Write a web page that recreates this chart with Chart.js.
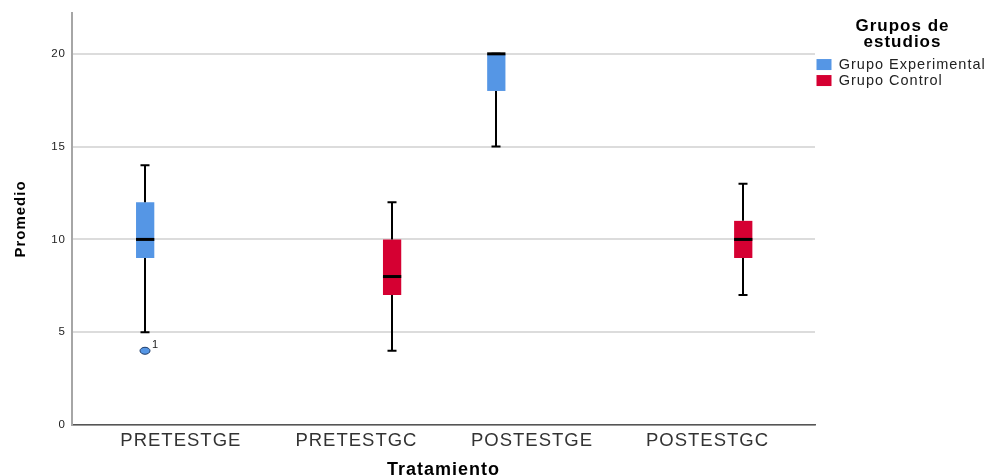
<!DOCTYPE html>
<html lang="es">
<head>
<meta charset="utf-8">
<title>Promedio por tratamiento</title>
<script src="https://cdn.jsdelivr.net/npm/chart.js@4.4.1/dist/chart.umd.min.js"></script>
<style>
  html, body { margin: 0; padding: 0; background: #ffffff; }
  #wrap { width: 990px; height: 476px; }
</style>
</head>
<body>
<div id="wrap"><canvas id="chart" width="990" height="476"></canvas></div>
<script>
// Categories on the x axis and the two study groups
const categories = ['PRETESTGE', 'PRETESTGC', 'POSTESTGE', 'POSTESTGC'];
const groupNames = ['Grupo Experimental', 'Grupo Control'];
const yTickValues = [0, 5, 10, 15, 20];

// Grupo Experimental: five-number summary per category (null = no data)
const expMin    = [5,    null, 15,   null];
const expQ1     = [9,    null, 18,   null];
const expMedian = [10,   null, 20,   null];
const expQ3     = [12,   null, 20,   null];
const expMax    = [14,   null, 20,   null];
const expOutliers     = [[4], [], [], []];
const expOutlierCases = [['1'], [], [], []];

// Grupo Control: five-number summary per category (null = no data)
const ctlMin    = [null, 4,  null, 7];
const ctlQ1     = [null, 7,  null, 9];
const ctlMedian = [null, 8,  null, 10];
const ctlQ3     = [null, 10, null, 11];
const ctlMax    = [null, 12, null, 13];
const ctlOutliers     = [[], [], [], []];
const ctlOutlierCases = [[], [], [], []];

const groupColors = ['#5596E5', '#D50032'];
const FONT = '"Liberation Sans", Arial, Helvetica, sans-serif';

const boxStats = [
  { min: expMin, q1: expQ1, median: expMedian, q3: expQ3, max: expMax, out: expOutliers, cases: expOutlierCases },
  { min: ctlMin, q1: ctlQ1, median: ctlMedian, q3: ctlQ3, max: ctlMax, out: ctlOutliers, cases: ctlOutlierCases }
];

// Interquartile box as a floating bar at each category index
function boxData(s) {
  return categories.map((c, i) => ({ x: i, y: s.q1[i] == null ? null : [s.q1[i], s.q3[i]] }));
}

// Slightly wider text spacing for all labels
const letterSpacingPlugin = {
  id: 'letterSpacing',
  beforeLayout(chart) { chart.ctx.letterSpacing = '1px'; },
  beforeDraw(chart) { chart.ctx.letterSpacing = '1px'; }
};

// Whiskers, caps, median line and outliers on top of each box
const boxWhiskerPlugin = {
  id: 'boxWhiskers',
  afterDatasetsDraw(chart) {
    const ctx = chart.ctx;
    const yScale = chart.scales.y;
    const py = v => yScale.getPixelForValue(v);
    const capHalf = 4.5;
    chart.data.datasets.forEach((ds, di) => {
      const s = boxStats[di];
      const meta = chart.getDatasetMeta(di);
      meta.data.forEach((bar, i) => {
        if (s.median[i] == null) return;
        const cx = Math.round(bar.x);
        const half = bar.width / 2;
        ctx.save();
        ctx.strokeStyle = '#000000';
        ctx.lineCap = 'butt';
        ctx.lineWidth = 2;
        ctx.beginPath();
        ctx.moveTo(cx, py(s.q1[i]));
        ctx.lineTo(cx, py(s.min[i]));
        ctx.moveTo(cx - capHalf, py(s.min[i]));
        ctx.lineTo(cx + capHalf, py(s.min[i]));
        ctx.moveTo(cx, py(s.q3[i]));
        ctx.lineTo(cx, py(s.max[i]));
        ctx.moveTo(cx - capHalf, py(s.max[i]));
        ctx.lineTo(cx + capHalf, py(s.max[i]));
        ctx.stroke();

        ctx.lineWidth = 3;
        ctx.beginPath();
        ctx.moveTo(bar.x - half, py(s.median[i]));
        ctx.lineTo(bar.x + half, py(s.median[i]));
        ctx.stroke();

        s.out[i].forEach((v, k) => {
          const oy = py(v);
          ctx.beginPath();
          ctx.ellipse(cx, oy, 5, 3.5, 0, 0, Math.PI * 2);
          ctx.fillStyle = ds.backgroundColor;
          ctx.fill();
          ctx.lineWidth = 1;
          ctx.strokeStyle = '#1d3a66';
          ctx.stroke();
          ctx.fillStyle = '#222222';
          ctx.font = '11px ' + FONT;
          ctx.textAlign = 'left';
          ctx.textBaseline = 'alphabetic';
          ctx.fillText(s.cases[i][k], cx + 7, oy - 3);
        });
        ctx.restore();
      });
    });
  }
};

Chart.defaults.font.family = FONT;

new Chart(document.getElementById('chart'), {
  type: 'bar',
  data: {
    datasets: [
      { label: groupNames[0], data: boxData(boxStats[0]), backgroundColor: groupColors[0], borderWidth: 0 },
      { label: groupNames[1], data: boxData(boxStats[1]), backgroundColor: groupColors[1], borderWidth: 0 }
    ]
  },
  plugins: [letterSpacingPlugin, boxWhiskerPlugin],
  options: {
    responsive: false,
    animation: false,
    events: [],
    layout: { padding: { top: 13, right: 0, bottom: 0, left: 0 } },
    datasets: { bar: { categoryPercentage: 0.813, barPercentage: 0.256 } },
    scales: {
      x: {
        type: 'linear',
        min: -0.62,
        max: 3.612,
        offset: false,
        afterBuildTicks: s => { s.ticks = categories.map((c, i) => ({ value: i })); },
        afterFit: s => { s.height = 51; },
        grid: { display: false, drawTicks: false },
        border: { display: true, color: '#555555', width: 1.5 },
        ticks: {
          callback: v => categories[v],
          color: '#333333',
          font: { size: 18.5 },
          padding: 5,
          autoSkip: false,
          maxRotation: 0
        },
        title: {
          display: true,
          text: 'Tratamiento',
          color: '#000000',
          font: { size: 18, weight: 'bold', lineHeight: 1 },
          padding: { top: 0, bottom: -3 }
        }
      },
      y: {
        min: 0,
        max: 22.2,
        afterBuildTicks: s => { s.ticks = yTickValues.map(v => ({ value: v })); },
        afterFit: s => { s.width = 72; },
        grid: { color: '#dcdcdc', lineWidth: 2, drawTicks: false },
        border: { display: true, color: '#a6a6a6', width: 2 },
        ticks: { color: '#222222', font: { size: 11.5 }, padding: 6 },
        title: {
          display: true,
          text: 'Promedio',
          color: '#000000',
          font: { size: 15, weight: 'bold', lineHeight: 1 },
          padding: { top: 13.5, bottom: 0 }
        }
      }
    },
    plugins: {
      legend: {
        position: 'right',
        align: 'start',
        maxWidth: 175,
        title: {
          display: true,
          text: ['Grupos de', 'estudios'],
          color: '#000000',
          font: { size: 17, weight: 'bold', lineHeight: 0.92 },
          padding: { top: 5, bottom: 22.15 }
        },
        labels: {
          boxWidth: 15,
          boxHeight: 11,
          padding: 1.5,
          color: '#222222',
          font: { size: 14.5 }
        }
      },
      tooltip: { enabled: false }
    }
  }
});
</script>
</body>
</html>
